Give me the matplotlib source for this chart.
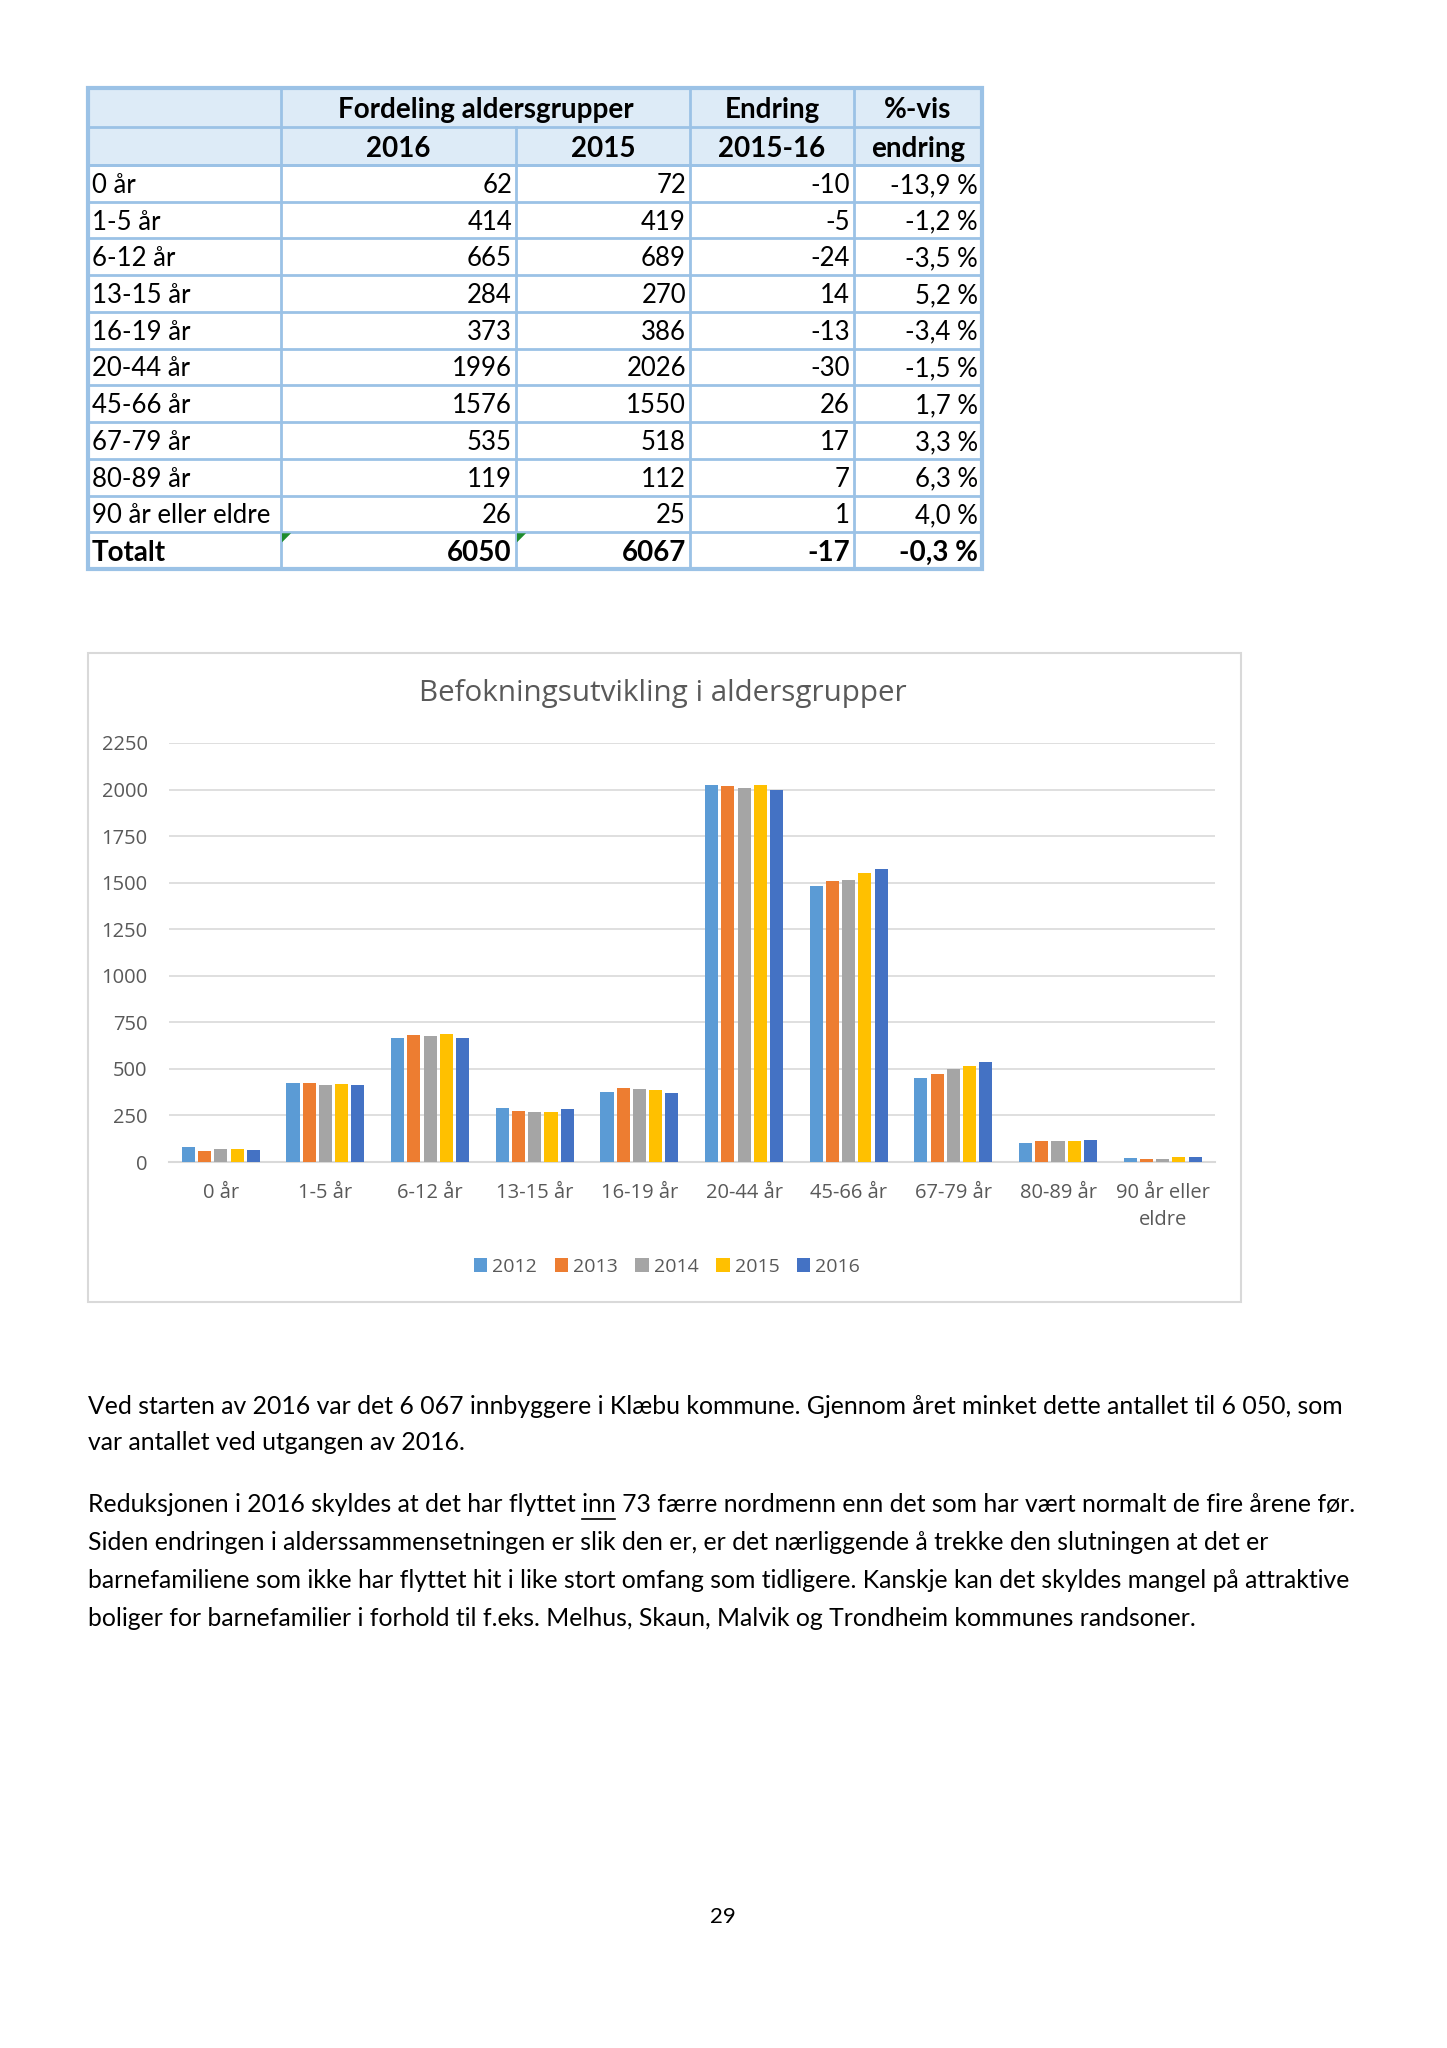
import matplotlib
matplotlib.use('Agg')
import matplotlib.pyplot as plt
from matplotlib.patches import Rectangle, Polygon

W, H = 1447, 2048

# table data
groups = ['0 år', '1-5 år', '6-12 år', '13-15 år', '16-19 år', '20-44 år',
          '45-66 år', '67-79 år', '80-89 år', '90 år eller eldre']
tab_2016 = [62, 414, 665, 284, 373, 1996, 1576, 535, 119, 26]
tab_2015 = [72, 419, 689, 270, 386, 2026, 1550, 518, 112, 25]
tab_change = [-10, -5, -24, 14, -13, -30, 26, 17, 7, 1]
tab_pct = [-13.9, -1.2, -3.5, 5.2, -3.4, -1.5, 1.7, 3.3, 6.3, 4.0]
total_row = ['Totalt', 6050, 6067, -17, -0.3]

# chart data
categories = ['0 år', '1-5 år', '6-12 år', '13-15 år', '16-19 år', '20-44 år',
              '45-66 år', '67-79 år', '80-89 år', '90 år eller\neldre']
years = ['2012', '2013', '2014', '2015', '2016']
v2012 = [79, 423, 667, 290, 374, 2023, 1484, 453, 104, 23]
v2013 = [59, 423, 680, 272, 399, 2018, 1507, 471, 113, 18]
v2014 = [70, 412, 676, 270, 390, 2009, 1516, 500, 113, 18]
v2015 = [72, 419, 689, 270, 386, 2026, 1550, 518, 112, 25]
v2016 = [62, 414, 665, 284, 373, 1996, 1576, 535, 119, 26]
colors = ['#5B9BD5', '#ED7D31', '#A5A5A5', '#FFC000', '#4472C4']

para1 = ['Ved starten av 2016 var det 6 067 innbyggere i Klæbu kommune. Gjennom året minket dette antallet til 6 050, som',
         'var antallet ved utgangen av 2016.']
para2 = ['Reduksjonen i 2016 skyldes at det har flyttet inn 73 færre nordmenn enn det som har vært normalt de fire årene før.',
         'Siden endringen i alderssammensetningen er slik den er, er det nærliggende å trekke den slutningen at det er',
         'barnefamiliene som ikke har flyttet hit i like stort omfang som tidligere. Kanskje kan det skyldes mangel på attraktive',
         'boliger for barnefamilier i forhold til f.eks. Melhus, Skaun, Malvik og Trondheim kommunes randsoner.']

body_font = 'Lato'
chart_font = 'Open Sans'


def fmt_pct(v):
    return f'{v:.1f} %'.replace('.', ',')


fig = plt.figure(figsize=(W / 100, H / 100), dpi=100)
fig.patch.set_facecolor('white')

pg = fig.add_axes([0, 0, 1, 1])
pg.set_xlim(0, W)
pg.set_ylim(H, 0)
pg.axis('off')

# ---- table ----
col_x = [87.5, 281, 516, 690, 854, 982]
head_y = [87.5, 127, 165]
row_h = (569 - 165) / 11
row_y = [165 + i * row_h for i in range(12)]
border = '#9BC2E6'
tsize = 18.5
hsize = 20

pg.add_patch(Rectangle((col_x[0], head_y[0]), col_x[-1] - col_x[0], head_y[2] - head_y[0],
                       facecolor='#DDEBF7', edgecolor='none', zorder=1))
for y in head_y + row_y:
    pg.plot([col_x[0], col_x[-1]], [y, y], color=border, lw=2, zorder=2)
for i, x in enumerate(col_x):
    if i == 2:
        pg.plot([x, x], [head_y[1], row_y[-1]], color=border, lw=2, zorder=2)
    else:
        pg.plot([x, x], [head_y[0], row_y[-1]], color=border, lw=2, zorder=2)
pg.add_patch(Rectangle((col_x[0], head_y[0]), col_x[-1] - col_x[0], row_y[-1] - head_y[0],
                       facecolor='none', edgecolor=border, lw=3, zorder=3))


def cell_mid(i, j):
    return (col_x[i] + col_x[j]) / 2


hy1 = (head_y[0] + head_y[1]) / 2 + 3
hy2 = (head_y[1] + head_y[2]) / 2 + 3
hkw = dict(ha='center', va='center', fontsize=hsize, fontweight='bold', family=body_font, zorder=4)
pg.text(cell_mid(1, 3), hy1, 'Fordeling aldersgrupper', **hkw)
pg.text(cell_mid(3, 4), hy1, 'Endring', **hkw)
pg.text(cell_mid(4, 5), hy1, '%-vis', **hkw)
pg.text(cell_mid(1, 2), hy2, '2016', **hkw)
pg.text(cell_mid(2, 3), hy2, '2015', **hkw)
pg.text(cell_mid(3, 4), hy2, '2015-16', **hkw)
pg.text(cell_mid(4, 5), hy2, 'endring', **hkw)

rows = list(zip(groups, tab_2016, tab_2015, tab_change, tab_pct)) + [tuple(total_row)]
for r, (g, a, b, c, p) in enumerate(rows):
    yc = (row_y[r] + row_y[r + 1]) / 2 + 2
    last = r == len(rows) - 1
    wt = 'bold' if last else 'normal'
    sz = hsize if last else tsize
    kw = dict(va='center', fontsize=sz, fontweight=wt, family=body_font, zorder=4)
    pg.text(col_x[0] + 4, yc, g, ha='left', **kw)
    for k, val in enumerate([str(a), str(b), str(c), fmt_pct(p)]):
        pg.text(col_x[k + 2] - 4, yc, val, ha='right', **kw)

# green error markers in total row
for x in [col_x[1], col_x[2]]:
    y0 = row_y[-2]
    pg.add_patch(Polygon([[x + 1, y0 + 1], [x + 10, y0 + 1], [x + 1, y0 + 10]],
                         closed=True, facecolor='#1E8C2E', edgecolor='none', zorder=5))

# ---- chart ----
pg.add_patch(Rectangle((87.5, 653), 1241 - 87.5, 1302 - 653, facecolor='none',
                       edgecolor='#D9D9D9', lw=1.5, zorder=1))

ax_l, ax_r, ax_t, ax_b = 168.5, 1215, 743, 1162
ax = fig.add_axes([ax_l / W, (H - ax_b) / H, (ax_r - ax_l) / W, (ax_b - ax_t) / H])
ax.set_facecolor('none')
series = [v2012, v2013, v2014, v2015, v2016]
bw, step = 0.125, 0.155
xs = range(len(categories))
for i, (yr, vals) in enumerate(zip(years, series)):
    ax.bar([x + (i - 2) * step for x in xs], vals, width=bw, color=colors[i], label=yr, zorder=3)

ax.set_xlim(-0.5, len(categories) - 0.5)
ax.set_ylim(0, 2250)
ax.set_yticks(range(0, 2251, 250))
ax.set_xticks(list(xs))
ax.set_xticklabels(categories, linespacing=1.45)
ax.grid(axis='y', color='#D9D9D9', lw=1.2, zorder=0)
for s in ['top', 'left', 'right']:
    ax.spines[s].set_visible(False)
ax.spines['bottom'].set_color('#D9D9D9')
ax.spines['bottom'].set_linewidth(1.5)
ax.tick_params(length=0, colors='#595959', labelsize=14.5)
ax.tick_params(axis='y', pad=15)
ax.tick_params(axis='x', pad=15)
for lab in ax.get_xticklabels() + ax.get_yticklabels():
    lab.set_family(chart_font)
    lab.set_color('#595959')

fig.text(663 / W, 1 - 693 / H, 'Befokningsutvikling i aldersgrupper', ha='center', va='center',
         fontsize=21.3, color='#595959', family=chart_font)

leg = ax.legend(loc='center', bbox_to_anchor=(667 / W, 1 - 1267 / H), bbox_transform=fig.transFigure,
                ncol=5, frameon=False, handlelength=0.7, handleheight=0.7, handletextpad=0.25,
                columnspacing=0.9, prop={'family': chart_font, 'size': 14})
for t in leg.get_texts():
    t.set_color('#595959')

# ---- paragraphs ----
psize = 17.8
line_y1 = [1406, 1443]
line_y2 = [1505, 1543, 1580, 1618]
for txt, y in zip(para1, line_y1):
    pg.text(87.5, y, txt, ha='left', va='center', fontsize=psize, family=body_font)
for txt, y in zip(para2, line_y2):
    pg.text(87.5, y, txt, ha='left', va='center', fontsize=psize, family=body_font)

# underline "inn"
fig.canvas.draw()
rend = fig.canvas.get_renderer()
pre = pg.text(87.5, line_y2[0], 'Reduksjonen i 2016 skyldes at det har flyttet ', ha='left', va='center',
              fontsize=psize, family=body_font)
word = pg.text(0, line_y2[0], 'inn', ha='left', va='center', fontsize=psize, family=body_font)
w_pre = pre.get_window_extent(rend).width
w_word = word.get_window_extent(rend).width
pre.remove()
word.remove()
pg.plot([87.5 + w_pre, 87.5 + w_pre + w_word], [line_y2[0] + 14, line_y2[0] + 14], color='black', lw=1.2)

pg.text(723, 1917, '29', ha='center', va='center', fontsize=16, family=body_font)

fig.savefig('out.png', dpi=100, facecolor='white')
